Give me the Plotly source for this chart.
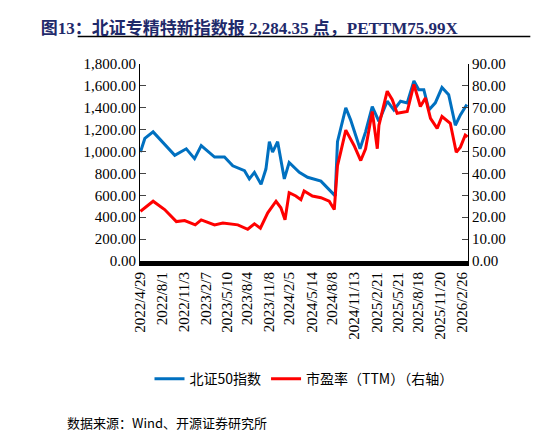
import plotly.graph_objects as go

idx_dates = ["2022-04-29", "2022-05-18", "2022-06-23", "2022-08-12", "2022-09-25", "2022-11-14",
             "2022-12-20", "2023-01-18", "2023-03-17", "2023-04-29", "2023-06-04", "2023-07-25",
             "2023-08-15", "2023-09-06", "2023-10-05", "2023-10-26", "2023-11-10", "2023-11-24",
             "2023-12-16", "2024-01-14", "2024-02-04", "2024-03-19", "2024-04-24", "2024-06-21",
             "2024-07-19", "2024-08-22", "2024-09-01", "2024-09-15", "2024-10-07", "2024-10-28",
             "2024-11-19", "2024-12-08", "2025-01-01", "2025-01-30", "2025-02-28", "2025-04-05",
             "2025-05-04", "2025-06-02", "2025-07-01", "2025-07-30", "2025-08-20", "2025-09-11",
             "2025-10-03", "2025-10-31", "2025-11-29", "2025-12-28", "2026-01-26", "2026-02-17",
             "2026-03-17"]
idx_values = [995, 1120, 1180, 1070, 965, 1025, 935, 1055, 950, 950, 870, 825, 750, 810, 700, 840,
              1090, 995, 1090, 750, 900, 810, 765, 730, 670, 595, 1090, 1210, 1400, 1290, 1150,
              1025, 1180, 1410, 1275, 1460, 1380, 1460, 1445, 1645, 1565, 1565, 1380, 1445, 1585,
              1520, 1240, 1335, 1430]

pe_dates = ["2022-04-29", "2022-06-23", "2022-08-12", "2022-10-02", "2022-11-07", "2022-12-23",
            "2023-01-18", "2023-03-17", "2023-04-22", "2023-06-26", "2023-08-08", "2023-09-06",
            "2023-10-02", "2023-11-03", "2023-12-09", "2023-12-30", "2024-01-17", "2024-02-04",
            "2024-03-04", "2024-03-26", "2024-04-09", "2024-05-15", "2024-06-21", "2024-07-27",
            "2024-08-18", "2024-09-01", "2024-09-15", "2024-10-07", "2024-11-12", "2024-12-11",
            "2025-01-01", "2025-01-30", "2025-02-21", "2025-02-28", "2025-04-05", "2025-04-27",
            "2025-05-18", "2025-07-01", "2025-07-30", "2025-08-27", "2025-09-18", "2025-10-10",
            "2025-11-08", "2025-11-29", "2026-01-04", "2026-01-30", "2026-02-17", "2026-03-10",
            "2026-03-20"]
pe_values = [22.7, 27.3, 23.5, 18.0, 18.5, 16.5, 18.8, 16.5, 17.3, 16.5, 14.5, 17.0, 15.0, 22.0,
             27.3, 24.3, 18.8, 31.2, 29.7, 28.0, 32.0, 29.7, 28.9, 27.3, 23.5, 43.6, 49.7, 59.8,
             52.8, 45.9, 51.3, 68.3, 51.3, 62.0, 77.6, 73.7, 67.5, 68.3, 80.7, 70.6, 74.5, 65.2,
             60.6, 66.0, 62.9, 49.7, 52.0, 57.5, 56.7]

tick_dates = ["2022-04-29", "2022-08-01", "2022-11-03", "2023-02-07", "2023-05-10", "2023-08-04",
              "2023-11-08", "2024-02-05", "2024-05-14", "2024-08-08", "2024-11-13", "2025-02-21",
              "2025-05-21", "2025-08-18", "2025-11-20", "2026-02-26"]
tick_labels = [d.replace("-0", "-").replace("-", "/") for d in tick_dates]

font = "Liberation Serif, Times New Roman, Noto Sans CJK SC, serif"

fig = go.Figure()
fig.add_trace(go.Scatter(x=idx_dates, y=idx_values, name="北证50指数", mode="lines",
                         line=dict(color="#0070C0", width=3)))
fig.add_trace(go.Scatter(x=pe_dates, y=pe_values, name="市盈率（TTM）（右轴）", mode="lines",
                         line=dict(color="#FF0000", width=3), yaxis="y2"))

fig.update_layout(
    width=546, height=436,
    margin=dict(l=132, r=86, t=56, b=183),
    paper_bgcolor="white", plot_bgcolor="white",
    font=dict(family=font, size=15, color="black"),
    showlegend=True,
    legend=dict(orientation="h", x=0.5, xanchor="center", y=-0.6, yanchor="middle",
                font=dict(size=14, family="Noto Sans CJK SC, Liberation Serif, serif")),
    xaxis=dict(type="date", range=["2022-04-27", "2026-03-22"], tickvals=tick_dates,
               ticktext=tick_labels, tickangle=-90, showgrid=False, showline=True,
               linecolor="black", linewidth=5, ticks="", tickfont=dict(size=15)),
    yaxis=dict(range=[0, 1800], dtick=200, tickformat=",.2f", showgrid=False, showline=True,
               linecolor="black", ticks="inside", ticklen=6, zeroline=False),
    yaxis2=dict(range=[0, 90], dtick=10, tickformat=".2f", overlaying="y", side="right",
                showgrid=False, showline=True, linecolor="black", ticks="inside", ticklen=6,
                zeroline=False),
    title=dict(text="<b>图13：北证专精特新指数报 2,284.35 点，PETTM75.99X</b>", x=0.06,
               xanchor="left", y=0.967, font=dict(size=17, color="#1F2A6B",
               family="Liberation Serif, Noto Sans CJK SC, serif")),
)
fig.add_shape(type="line", xref="paper", yref="paper", x0=-0.19, x1=1.19, y0=1.14, y1=1.14,
              line=dict(color="black", width=1.5))
fig.add_annotation(text="数据来源：Wind、开源证券研究所", xref="paper", yref="paper",
                   x=-0.23, y=-0.82, xanchor="left", yanchor="middle", showarrow=False,
                   font=dict(size=13, family="Noto Sans CJK SC, serif"))

fig.write_html("out.html")
